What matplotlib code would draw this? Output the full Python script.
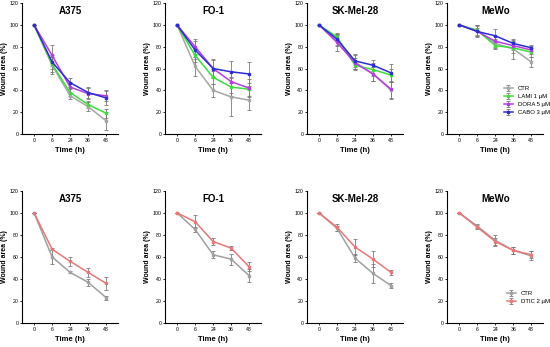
import matplotlib
matplotlib.use("Agg")
import matplotlib.pyplot as plt

plt.rcParams['font.family'] = ['Liberation Sans', 'DejaVu Sans']

# Time points (categorical x positions)
times = ["0", "6", "24", "36", "48"]

# Top row: targeted drugs
top_titles = ["A375", "FO-1", "SK-Mel-28", "MeWo"]
top_labels = ["CTR", "LAMI 1 µM", "DORA 5 µM", "CABO 3 µM"]
top_colors = ["#a6a6a6", "#3ddc3d", "#b43fe0", "#2d2dd2"]

a375_means = [[100, 63, 35, 25, 12], [100, 64, 38, 27, 19], [100, 72, 43, 37, 35], [100, 66, 47, 38, 33]]
a375_errs = [[0, 8, 3, 4, 8], [0, 7, 3, 3, 4], [0, 10, 5, 5, 5], [0, 6, 4, 5, 6]]
fo1_means = [[100, 62, 40, 34, 31], [100, 72, 52, 43, 41], [100, 80, 60, 48, 42], [100, 77, 60, 57, 55]]
fo1_errs = [[0, 9, 6, 18, 9], [0, 6, 6, 8, 6], [0, 7, 9, 10, 8], [0, 8, 8, 10, 11]]
skmel_means = [[100, 86, 66, 55, 40], [100, 89, 63, 59, 54], [100, 84, 65, 55, 41], [100, 87, 67, 63, 56]]
skmel_errs = [[0, 5, 6, 6, 8], [0, 4, 4, 6, 6], [0, 8, 5, 6, 8], [0, 5, 6, 5, 8]]
mewo_means = [[100, 95, 83, 78, 66], [100, 95, 81, 79, 75], [100, 94, 85, 81, 77], [100, 94, 90, 83, 79]]
mewo_errs = [[0, 5, 4, 9, 5], [0, 5, 3, 5, 4], [0, 5, 5, 4, 4], [0, 3, 6, 3, 3]]

# Bottom row: DTIC
bot_labels = ["CTR", "DTIC 2 µM"]
bot_colors = ["#a0a0a0", "#e87878"]
a375_dtic = [[100, 60, 46, 37, 23], [100, 67, 56, 46, 36]]
a375_dtic_err = [[0, 6, 1, 3, 2], [0, 1, 4, 4, 6]]
fo1_dtic = [[100, 85, 62, 58, 43], [100, 92, 74, 68, 51]]
fo1_dtic_err = [[0, 2, 3, 5, 6], [0, 6, 3, 2, 4]]
skmel_dtic = [[100, 86, 59, 45, 34], [100, 87, 69, 58, 46]]
skmel_dtic_err = [[0, 2, 4, 9, 2], [0, 3, 7, 7, 2]]
mewo_dtic = [[100, 88, 75, 66, 61], [100, 87, 74, 66, 62]]
mewo_dtic_err = [[0, 2, 5, 3, 4], [0, 2, 3, 3, 3]]

top_means = [a375_means, fo1_means, skmel_means, mewo_means]
top_errs = [a375_errs, fo1_errs, skmel_errs, mewo_errs]
bot_means = [a375_dtic, fo1_dtic, skmel_dtic, mewo_dtic]
bot_errs = [a375_dtic_err, fo1_dtic_err, skmel_dtic_err, mewo_dtic_err]

fig = plt.figure(figsize=(5.5, 3.47), dpi=100)
lefts = [0.040, 0.300, 0.558, 0.813]
width = 0.175


def style_axes(ax, title):
    ax.set_xlim(-0.67, 4.67)
    ax.set_ylim(0, 120)
    ax.set_yticks(range(0, 121, 20))
    ax.set_xticks(range(len(times)))
    ax.set_xticklabels(times)
    for s in ["top", "right"]:
        ax.spines[s].set_visible(False)
    for s in ["left", "bottom"]:
        ax.spines[s].set_linewidth(0.8)
    ax.tick_params(labelsize=3.8, length=1.6, width=0.6, pad=1)
    ax.set_xlabel("Time (h)", fontsize=5.5, fontweight="bold", labelpad=3)
    ax.set_ylabel("Wound area (%)", fontsize=5, fontweight="bold", labelpad=1)
    ax.text(0.5, 0.94, title, transform=ax.transAxes, ha="center", va="center",
            fontsize=7, fontweight="bold")


def draw(ax, means, errs, colors, labels):
    x = range(len(times))
    for m, e, c, lab in zip(means, errs, colors, labels):
        ax.errorbar(x, m, yerr=e, color=c, lw=1.1, marker="s", ms=2,
                    elinewidth=0.6, capsize=1.2, capthick=0.6,
                    ecolor="#7a7a7a", label=lab)


for i in range(4):
    ax = fig.add_axes([lefts[i], 0.614, width, 0.377])
    draw(ax, top_means[i], top_errs[i], top_colors, top_labels)
    style_axes(ax, top_titles[i])
    if i == 3:
        ax.legend(loc="lower right", bbox_to_anchor=(1.12, 0.1), fontsize=4.3,
                  frameon=False, handlelength=1.5, labelspacing=0.5)

for i in range(4):
    ax = fig.add_axes([lefts[i], 0.069, width, 0.381])
    draw(ax, bot_means[i], bot_errs[i], bot_colors, bot_labels)
    style_axes(ax, top_titles[i])
    if i == 3:
        ax.legend(loc="lower right", bbox_to_anchor=(1.12, 0.1), fontsize=4.3,
                  frameon=False, handlelength=1.5, labelspacing=0.5)

fig.savefig("out.png", dpi=100)
